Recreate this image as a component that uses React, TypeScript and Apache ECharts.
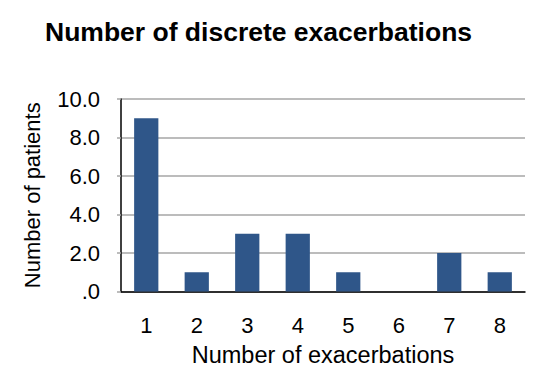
import React, { useEffect, useRef } from "react";
import * as echarts from "echarts";

const categories = ["1", "2", "3", "4", "5", "6", "7", "8"];
const patients = [9, 1, 3, 3, 1, 0, 2, 1];
const titleText = "Number of discrete exacerbations";
const xName = "Number of exacerbations";
const yName = "Number of patients";

export default function App() {
  const ref = useRef<HTMLDivElement>(null);
  useEffect(() => {
    if (!ref.current) return;
    const chart = echarts.init(ref.current, null, { renderer: "svg" });
    const font = "Liberation Sans, Arial, sans-serif";
    chart.setOption({
      animation: false,
      backgroundColor: "#ffffff",
      title: {
        text: titleText,
        left: 40,
        top: 13,
        textStyle: { fontFamily: font, fontSize: 26.5, fontWeight: "bold", color: "#000000" },
      },
      grid: { left: 121, right: 23, top: 99, bottom: 94.5, containLabel: false },
      xAxis: {
        type: "category",
        data: categories,
        name: xName,
        nameLocation: "middle",
        nameGap: 51,
        nameTextStyle: { fontFamily: font, fontSize: 23.5, color: "#000000" },
        axisLine: { lineStyle: { color: "#000000", width: 1.5 } },
        axisTick: { show: false },
        axisLabel: { fontFamily: font, fontSize: 22, color: "#000000", margin: 23 },
      },
      yAxis: {
        type: "value",
        min: 0,
        max: 10,
        interval: 2,
        name: yName,
        nameLocation: "middle",
        nameGap: 78,
        nameTextStyle: { fontFamily: font, fontSize: 22, color: "#000000" },
        axisLine: { show: true, lineStyle: { color: "#000000", width: 1.5 } },
        axisTick: { show: true, length: 4, lineStyle: { color: "#A6A6A6", width: 1.5 } },
        axisLabel: {
          fontFamily: font,
          fontSize: 22,
          color: "#000000",
          margin: 21,
          formatter: (v: number) => (v === 0 ? ".0" : v.toFixed(1)),
        },
        splitLine: { show: true, lineStyle: { color: "#A6A6A6", width: 1.5 } },
      },
      series: [
        {
          type: "bar",
          data: patients,
          barWidth: "48%",
          itemStyle: { color: "#2F5689" },
        },
      ],
    });
    return () => chart.dispose();
  }, []);
  return <div ref={ref} style={{ width: 548, height: 386, margin: -8 }} />;
}
